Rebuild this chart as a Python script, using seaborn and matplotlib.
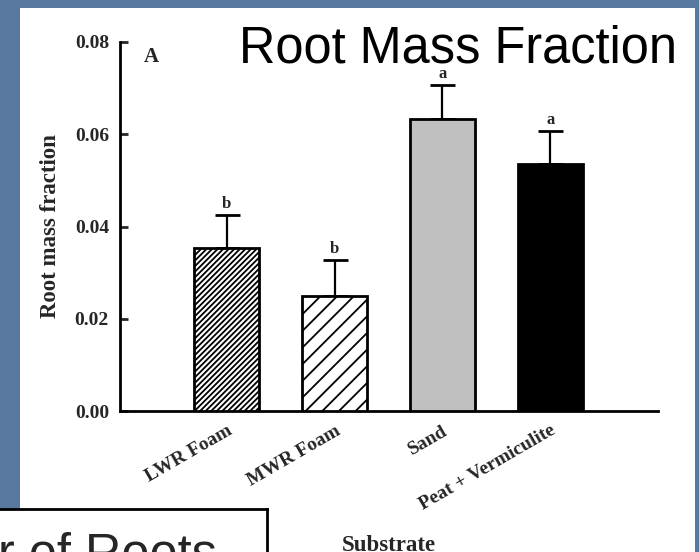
import numpy as np
import pandas as pd
import matplotlib
matplotlib.use("Agg")
import matplotlib.pyplot as plt
from matplotlib.patches import Rectangle
import seaborn as sns

# ---- data ----
categories = ["LWR Foam", "MWR Foam", "Sand", "Peat + Vermiculite"]
means = [0.0353, 0.0249, 0.0634, 0.0536]
errors = [0.0071, 0.0078, 0.0073, 0.0072]
letters = ["b", "b", "a", "a"]
fill_colors = ["white", "white", "#c0c0c0", "black"]
hatches = ["//////", "//", "", ""]
yticks = [0.00, 0.02, 0.04, 0.06, 0.08]
ytick_labels = ["0.00", "0.02", "0.04", "0.06", "0.08"]

sns.set_style("ticks")
plt.rcParams["font.family"] = ["Liberation Serif", "DejaVu Serif"]
plt.rcParams["hatch.linewidth"] = 1.3

W, H = 699, 552
fig = plt.figure(figsize=(W / 100, H / 100), dpi=100)
fig.patch.set_facecolor("#5878a0")

# white slide panel
fig.patches.append(Rectangle((20 / W, 0), 675 / W, 544 / H, transform=fig.transFigure,
                             facecolor="white", edgecolor="none", zorder=-10))

# main axes
ax = fig.add_axes([120 / W, (H - 411) / H, 538 / W, 369 / H])
ax.set_facecolor("none")

df = pd.DataFrame({"Substrate": categories, "value": means})
sns.barplot(data=df, x="Substrate", y="value", hue="Substrate", palette=fill_colors,
            legend=False, width=0.6, edgecolor="black", linewidth=2, errorbar=None, ax=ax,
            zorder=3)
for patch, h in zip(ax.patches, hatches):
    if h:
        patch.set_hatch(h)

pos = np.arange(len(categories))
ax.errorbar(pos, means, yerr=[np.zeros(len(errors)), errors], fmt="none",
            ecolor="black", elinewidth=1.6, capsize=9, capthick=2, zorder=2)

for x, m, e, t in zip(pos, means, errors, letters):
    ax.annotate(t, (x, m + e), xytext=(0, 5), textcoords="offset points",
                ha="center", va="baseline", fontsize=12, fontweight="bold")

ax.set_xlim(-0.99, 4.0)
ax.set_ylim(0, 0.08)
ax.set_yticks(yticks)
ax.set_yticklabels(ytick_labels, fontsize=14, fontweight="bold")
ax.tick_params(axis="y", direction="in", length=6, width=2, pad=8)
ax.tick_params(axis="x", length=0, pad=8)
ax.set_xticks(pos)
ax.set_xticklabels(categories, rotation=30, ha="right", rotation_mode="anchor",
                   fontsize=14, fontweight="bold")
for spine in ["top", "right"]:
    ax.spines[spine].set_visible(False)
for spine in ["left", "bottom"]:
    ax.spines[spine].set_linewidth(2)
    ax.spines[spine].set_color("black")

ax.set_ylabel("Root mass fraction", fontsize=16.5, fontweight="bold")
ax.yaxis.set_label_coords(-0.11, 0.5)
ax.set_xlabel("Substrate", fontsize=16.5, fontweight="bold")
ax.xaxis.set_label_coords(0.5, -0.336)

ax.text(0.044, 0.0757, "A", transform=ax.get_yaxis_transform(), fontsize=15,
        fontweight="bold", va="baseline", ha="left")

# slide title
fig.text(239 / W, 1 - 62 / H, "Root Mass Fraction", family="Liberation Sans",
         fontsize=36.4, color="black", va="baseline", ha="left")

# bottom-left text box (partially visible)
bx = fig.add_axes([-5 / W, (H - 560) / H, 272 / W, 51 / H])
bx.set_facecolor("white")
bx.set_xticks([])
bx.set_yticks([])
for s in bx.spines.values():
    s.set_linewidth(2)
    s.set_color("black")
bx.text((-2 + 5) / 272, (560 - 569) / 51, "r of Roots", transform=bx.transAxes,
        family="Liberation Sans", fontsize=36.4, va="baseline", ha="left", clip_on=False)

fig.savefig("out.png", dpi=100)
